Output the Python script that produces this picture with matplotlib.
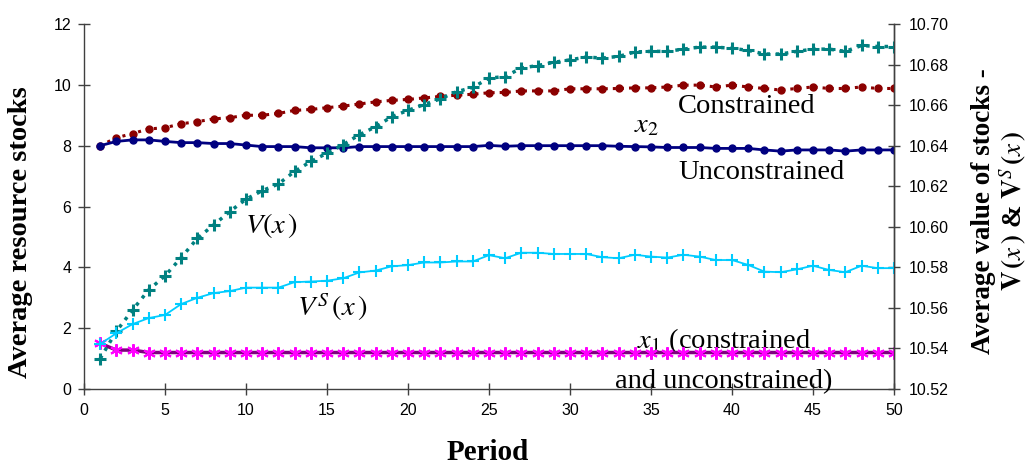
import matplotlib
matplotlib.use("Agg")
import matplotlib.pyplot as plt
import numpy as np

# periods 1..50
periods = np.arange(1, 51)

# left axis: average resource stocks
x2_constrained = [8.0, 8.26, 8.4, 8.55, 8.59, 8.72, 8.79, 8.88, 8.92, 9.0,
                  9.0, 9.06, 9.16, 9.19, 9.25, 9.3, 9.37, 9.44, 9.49, 9.52,
                  9.57, 9.62, 9.66, 9.69, 9.74, 9.75, 9.8, 9.8, 9.8, 9.87,
                  9.87, 9.87, 9.88, 9.9, 9.9, 9.93, 9.99, 9.99, 9.93, 9.99,
                  9.93, 9.88, 9.83, 9.88, 9.93, 9.88, 9.88, 9.93, 9.88, 9.88]
x2_unconstrained = [8.0, 8.14, 8.19, 8.19, 8.14, 8.1, 8.1, 8.07, 8.07, 8.02,
                    7.97, 7.97, 7.97, 7.93, 7.93, 7.93, 7.97, 7.97, 7.97, 7.97,
                    7.97, 7.97, 7.97, 7.97, 8.01, 7.98, 8.0, 8.0, 8.0, 8.0,
                    8.0, 8.0, 7.98, 7.97, 7.96, 7.94, 7.94, 7.94, 7.91, 7.91,
                    7.91, 7.86, 7.82, 7.86, 7.86, 7.86, 7.82, 7.86, 7.86, 7.86]
x1_both = [1.5, 1.28, 1.28] + [1.2] * 47

# right axis: average value of stocks
v_x = [10.535, 10.5485, 10.559, 10.5689, 10.5758, 10.5848, 10.5943, 10.6009, 10.6075, 10.6136,
       10.6178, 10.6211, 10.6273, 10.6322, 10.6363, 10.6405, 10.6454, 10.6493, 10.6543, 10.6574,
       10.6603, 10.6631, 10.6666, 10.6687, 10.6733, 10.6741, 10.6783, 10.6795, 10.6811, 10.6823,
       10.6837, 10.6832, 10.684, 10.6862, 10.6865, 10.6865, 10.6876, 10.6886, 10.6886, 10.688,
       10.687, 10.6852, 10.6852, 10.6865, 10.6876, 10.6876, 10.6865, 10.6894, 10.6889, 10.6889]
vs_x = [10.5422, 10.5475, 10.552, 10.555, 10.5565, 10.5619, 10.565, 10.5673, 10.5683, 10.57,
        10.57, 10.57, 10.5727, 10.573, 10.5734, 10.5746, 10.5775, 10.5784, 10.5805, 10.5811,
        10.5824, 10.5824, 10.5829, 10.5829, 10.586, 10.5845, 10.5872, 10.5872, 10.5866, 10.5866,
        10.5866, 10.585, 10.5845, 10.5862, 10.5853, 10.5848, 10.5862, 10.5853, 10.5836, 10.5836,
        10.5812, 10.5779, 10.5776, 10.579, 10.5808, 10.5787, 10.5776, 10.5808, 10.5796, 10.5796]

plt.rcParams["mathtext.fontset"] = "stix"
serif = "Liberation Serif"
sans = "Liberation Sans"

fig = plt.figure(figsize=(10.33, 4.66), dpi=100)
ax = fig.add_axes([0.0813, 0.1652, 0.7841, 0.7833])
ax2 = ax.twinx()

ax.plot(periods, x2_constrained, color="#8B0000", ls=":", lw=2.2, marker="o", ms=5, zorder=3)
ax.plot(periods, x2_unconstrained, color="#000080", ls="-", lw=2, marker="o", ms=5, zorder=3)
ax.plot(periods, x1_both, color="#800080", ls="-", lw=2.5, marker=(6, 2, 0),
        ms=9, mew=1.5, mec="#FF00FF", mfc="#FF00FF", zorder=4)

ax2.plot(periods, v_x, color="#008080", ls=":", lw=2.5, marker="+", ms=8, mew=2.2)
ax2.plot(periods, vs_x, color="#00CCFF", ls="-", lw=1.3, marker="+", ms=9, mew=1.5)

ax.set_xlim(0, 50)
ax.set_ylim(0, 12)
ax2.set_ylim(10.52, 10.70)
ax.set_xticks(np.arange(0, 51, 5))
ax.set_yticks(np.arange(0, 13, 2))
ax2.set_yticks(np.arange(10.52, 10.7001, 0.02))
ax2.set_yticklabels([f"{t:.2f}" for t in np.arange(10.52, 10.7001, 0.02)])

for a in (ax, ax2):
    a.spines["top"].set_visible(False)
    for s in ("left", "right", "bottom"):
        a.spines[s].set_color("#404040")
        a.spines[s].set_linewidth(1.0)
    a.tick_params(direction="inout", length=8.5, width=1, color="#404040", labelsize=11.5)
    for lab in a.get_xticklabels() + a.get_yticklabels():
        lab.set_fontfamily(sans)
ax2.spines["left"].set_visible(False)
ax2.spines["bottom"].set_visible(False)
ax.tick_params(axis="y", pad=5)
ax.tick_params(axis="x", pad=6)
ax2.tick_params(axis="y", pad=6.5)

lab = dict(fontfamily=serif, fontweight="bold", ha="center", va="center")
fig.text(0.4724, 0.028, "Period", fontsize=21, **lab)
fig.text(0.0194, 0.502, "Average resource stocks", fontsize=20.5, rotation=90, **lab)
fig.text(0.968, 0.547, "Average value of stocks -\n"
         + r"$\mathbf{V}\,\mathbf{(}x\,\mathbf{)}$ & $\mathbf{V}^{S}\,\mathbf{(}x\,\mathbf{)}$",
         fontsize=19.5, rotation=90, linespacing=1.05, multialignment="center", **lab)

ann = dict(fontfamily=serif, fontsize=20.5, color="black", ha="center", va="center")
ax.text(40.9, 9.3, "Constrained", **ann)
ax.text(41.8, 7.12, "Unconstrained", **ann)
ax.text(34.7, 8.65, r"$x_2$", **ann)
ax.text(11.6, 5.39, r"$V(x\,)$", **ann)
ax.text(15.34, 2.68, r"$V^{S}\,(x\,)$", **ann)
ax.text(39.5, 1.56, r"$x_1$ (constrained", **ann)
ax.text(39.5, 0.25, "and unconstrained)", **ann)

fig.savefig("out.png", dpi=100)
